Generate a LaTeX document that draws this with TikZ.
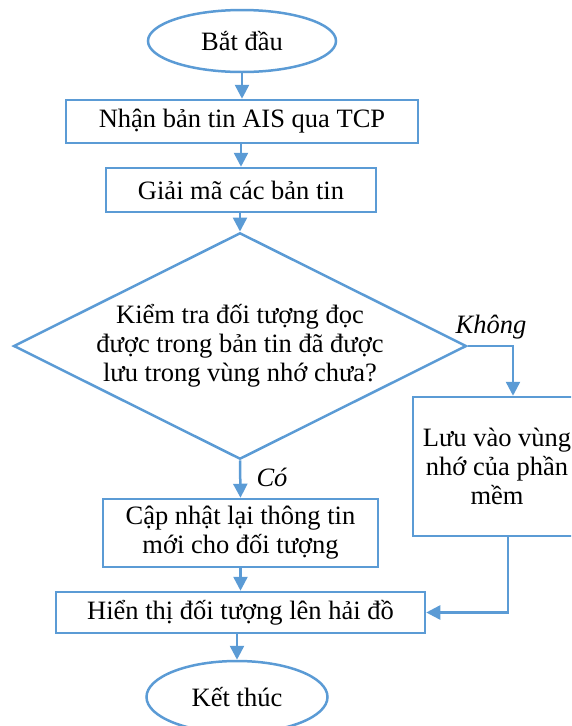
\documentclass[tikz,border=0pt]{standalone}
\usepackage{fontspec}
\setmainfont{Liberation Serif}
\usetikzlibrary{shapes.geometric,arrows.meta}
\definecolor{flowblue}{HTML}{5B9BD5}
\begin{document}
\begin{tikzpicture}[x=1pt,y=-1pt,
  every node/.style={font=\fontsize{26.5}{29}\selectfont},
  base/.style={draw=flowblue,line width=2.5pt,align=center,inner sep=0pt},
  terminal/.style={base,ellipse},
  process/.style={base,rectangle},
  decision/.style={base,diamond,shape aspect=2},
  arr/.style={draw=flowblue,line width=2.5pt,-{Triangle[length=14pt,width=14pt]}},
  branch/.style={font=\fontsize{26.5}{29}\selectfont\itshape}]
\useasboundingbox (0,0) rectangle (571,726);
\clip (0,0) rectangle (571,726);

% main column
\node[terminal,minimum width=188,minimum height=62] (start) at (242,41) {Bắt đầu};
\node[process,minimum width=352,minimum height=43] (recv) at (242,121.5) {Nhận bản tin AIS qua TCP};
\node[process,minimum width=270,minimum height=44] (decode) at (241,190) {Giải mã các bản tin};
\node[decision,minimum width=451,minimum height=226] (check) at (240,346)
  {Kiểm tra đối tượng đọc\\được trong bản tin đã được\\lưu trong vùng nhớ chưa?};
\node[process,minimum width=275,minimum height=68] (update) at (240.5,533)
  {Cập nhật lại thông tin\\mới cho đối tượng};
\node[process,minimum width=369,minimum height=41] (show) at (240.5,612.5) {Hiển thị đối tượng lên hải đồ};
\node[terminal,minimum width=181,minimum height=72] (end) at (237,697) {Kết thúc};

% side branch
\node[process,minimum width=168,minimum height=139] (store) at (497,466.5)
  {Lưu vào vùng\\nhớ của phần\\mềm};

% connectors
\draw[arr] (start.south -| recv) -- (recv.north);
\draw[arr] (recv.south -| decode) -- (decode.north);
\draw[arr] (decode.south -| check) -- (check.north);
\draw[arr] (check.south) -- (update.north);
\draw[arr] (update.south) -- (show.north);
\draw[arr] (show.south -| end) -- (end.north);

\coordinate (turn) at (513,346);
\draw[arr] (check.east) -- (turn) -- (turn |- store.north);
\draw[arr] ([xshift=11pt]store.south) |- (show.east);

% branch labels
\node[branch] (yes) at (272,477) {Có};
\node[branch] (no) at (491,327) {Không};
\end{tikzpicture}
\end{document}
